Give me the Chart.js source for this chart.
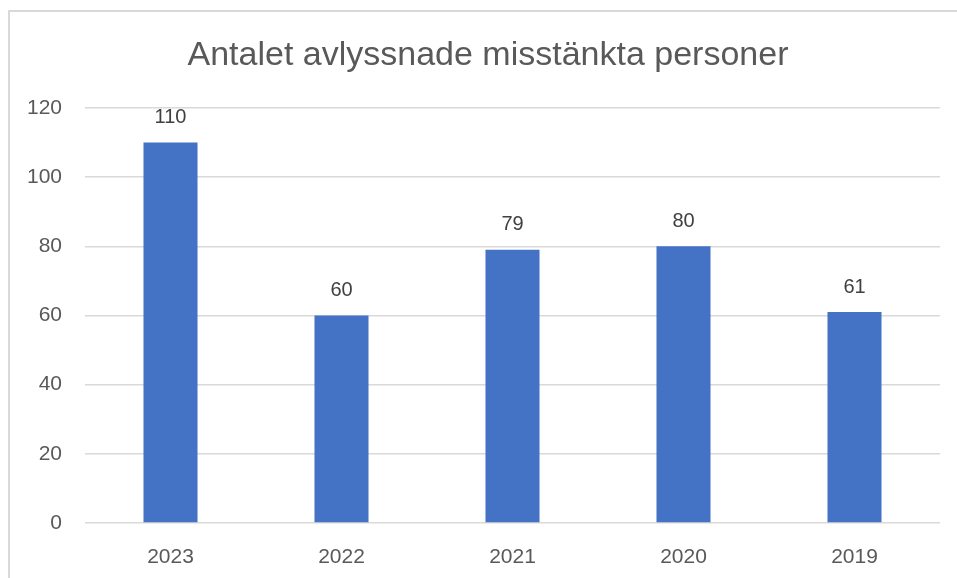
<!DOCTYPE html>
<html>
<head>
<meta charset="utf-8">
<script src="https://cdn.jsdelivr.net/npm/chart.js@4"></script>
<style>
  body { margin: 0; background: #fff; }
  #frame { position: absolute; left: 8px; top: 10px; width: 970px; height: 590px; border: 2px solid #d9d9d9; }
  #myChart { position: absolute; left: 0; top: 0; }
</style>
</head>
<body>
<div id="frame"></div>
<canvas id="myChart" width="957" height="578"></canvas>
<script>
// ---------------------------DATA---------------------//
var years = ["2023", "2022", "2021", "2020", "2019"];
var persons = [110, 60, 79, 80, 61];
var yTicks = [0, 20, 40, 60, 80, 100, 120];
var chartTitle = "Antalet avlyssnade misstänkta personer";

var fontName = "'Liberation Sans', 'DejaVu Sans', sans-serif";

// draws the value above every bar, and the title (a bit left of the plot centre)
var barLabels = {
    id: "barLabels",
    afterDatasetsDraw: function (chart) {
        var c = chart.ctx;
        var meta = chart.getDatasetMeta(0);
        c.save();
        c.font = "20px " + fontName;
        c.fillStyle = "#404040";
        c.textAlign = "center";
        c.textBaseline = "middle";
        meta.data.forEach(function (bar, i) {
            c.fillText(chart.data.datasets[0].data[i], bar.x, bar.y - 25);
        });

        c.font = "34px " + fontName;
        c.fillStyle = "#595959";
        c.fillText(chartTitle, 488, 56);
        c.restore();
    }
};

// ---------------------------BAR GRAPH---------------------//
var ctx = document.getElementById("myChart");

new Chart(ctx, {
    type: "bar",
    data: {
        labels: years,
        datasets: [
            {
                data: persons,
                label: chartTitle,
                backgroundColor: "#4472C4",
                barPercentage: 0.316,
                categoryPercentage: 1
            }
        ]
    },
    options: {
        responsive: false,
        animation: false,
        layout: {
            padding: { left: 0, right: 17, top: 108, bottom: 0 }
        },
        plugins: {
            legend: { display: false },
            tooltip: { enabled: false },
            title: { display: false }
        },
        scales: {
            x: {
                grid: { display: false },
                border: { display: false },
                ticks: {
                    color: "#595959",
                    font: { family: fontName, size: 21 },
                    padding: 14
                },
                afterFit: function (scale) { scale.height = 55; }
            },
            y: {
                min: 0,
                max: 120,
                afterBuildTicks: function (scale) {
                    scale.ticks = yTicks.map(function (v) { return { value: v }; });
                },
                grid: { color: "#d9d9d9", lineWidth: 1.5, drawTicks: false },
                border: { display: false },
                ticks: {
                    color: "#595959",
                    font: { family: fontName, size: 21 },
                    padding: 23
                },
                afterFit: function (scale) { scale.width = 85; }
            }
        }
    },
    plugins: [barLabels]
});
</script>
</body>
</html>
